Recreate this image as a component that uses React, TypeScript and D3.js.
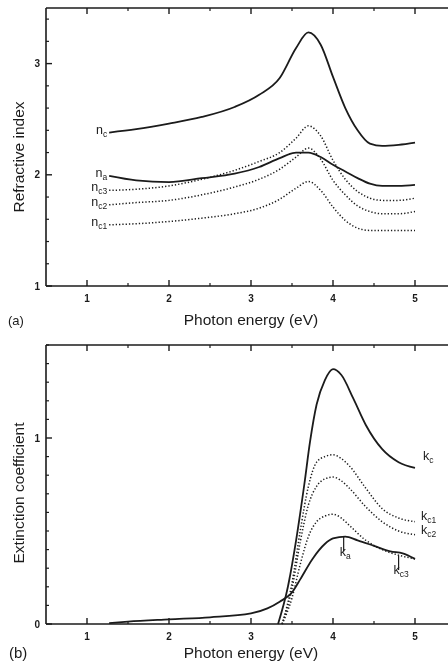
import React, {useEffect, useRef} from 'react';
import * as d3 from 'd3';

// panel (a) refractive index
const aEnergy = [1.27, 1.6, 2.0, 2.4, 2.8, 3.1, 3.35, 3.55, 3.7, 3.85, 4.0, 4.15, 4.3, 4.45, 4.6, 4.8, 5.0];
const nC = [2.38, 2.41, 2.46, 2.52, 2.61, 2.72, 2.87, 3.14, 3.28, 3.17, 2.88, 2.6, 2.4, 2.28, 2.26, 2.27, 2.29];
const nA = [1.99, 1.95, 1.935, 1.97, 2.01, 2.07, 2.15, 2.2, 2.2, 2.16, 2.09, 2.03, 1.97, 1.92, 1.9, 1.9, 1.91];
const nC3 = [1.86, 1.87, 1.9, 1.96, 2.04, 2.12, 2.2, 2.33, 2.44, 2.35, 2.13, 1.96, 1.85, 1.79, 1.77, 1.77, 1.79];
const nC2 = [1.73, 1.75, 1.77, 1.82, 1.89, 1.96, 2.05, 2.16, 2.24, 2.14, 1.95, 1.82, 1.72, 1.67, 1.65, 1.65, 1.67];
const nC1 = [1.55, 1.56, 1.58, 1.61, 1.65, 1.7, 1.78, 1.88, 1.94, 1.86, 1.71, 1.59, 1.52, 1.5, 1.5, 1.5, 1.5];

// panel (b) extinction coefficient
const kaEnergy = [1.27, 1.5, 2.0, 2.5, 3.0, 3.2, 3.35, 3.5, 3.6, 3.75, 3.9, 4.0, 4.15, 4.3, 4.5, 4.7, 4.85, 5.0];
const kA = [0.005, 0.013, 0.025, 0.036, 0.057, 0.084, 0.12, 0.17, 0.24, 0.35, 0.43, 0.46, 0.47, 0.45, 0.42, 0.39, 0.38, 0.35];
const kcEnergy = [3.33, 3.45, 3.55, 3.65, 3.72, 3.8, 3.9, 4.0, 4.1, 4.25, 4.4, 4.6, 4.8, 5.0];
const kC = [0, 0.2, 0.45, 0.75, 0.98, 1.18, 1.31, 1.37, 1.34, 1.21, 1.07, 0.94, 0.87, 0.84];
const kdEnergy = [3.38, 3.5, 3.6, 3.7, 3.8, 3.9, 4.0, 4.1, 4.2, 4.4, 4.6, 4.8, 5.0];
const kC1 = [0, 0.22, 0.5, 0.74, 0.87, 0.9, 0.91, 0.89, 0.85, 0.73, 0.62, 0.57, 0.55];
const kC2 = [0, 0.19, 0.44, 0.64, 0.74, 0.78, 0.79, 0.77, 0.73, 0.63, 0.55, 0.5, 0.48];
const kC3 = [0, 0.14, 0.32, 0.47, 0.55, 0.58, 0.59, 0.57, 0.53, 0.45, 0.4, 0.37, 0.35];

const xTicks = [1, 2, 3, 4, 5];

const FONT = "'Liberation Sans', Arial, sans-serif";

const App = () => {
    const ref = useRef<SVGSVGElement>(null);

    useEffect(() => {
        const svg = d3.select(ref.current);
        svg.selectAll("*").remove();

        const ink = "#1a1a1a";
        // opacity just under 1 keeps text antialiasing grey like the scan
        const root = svg.append("g").attr("opacity", 0.995);

        // draws frame + ticks for one panel, returns the scales
        function panel(top: number, bottom: number, yDomain: [number, number], majors: number[], minorStep: number) {
            const x = d3.scaleLinear().domain([0.5, 5.5]).range([46, 456]);
            const y = d3.scaleLinear().domain(yDomain).range([bottom, top]);
            const g = root.append("g");

            const minorX = d3.range(1.5, 5.5, 1);
            const minorY = d3.range(yDomain[0], yDomain[1] + 1e-9, minorStep).filter(v => !majors.some(m => Math.abs(m - v) < 1e-6));

            // frame
            g.append("line").attr("x1", 46).attr("x2", 46).attr("y1", top).attr("y2", bottom);
            g.append("line").attr("x1", 46).attr("x2", 448).attr("y1", bottom).attr("y2", bottom);
            g.append("line").attr("x1", 46).attr("x2", 448).attr("y1", top).attr("y2", top);
            g.selectAll("line").attr("stroke", ink).attr("stroke-width", 1.6);

            const tick = (x1: number, y1: number, x2: number, y2: number, w: number) =>
                g.append("line").attr("x1", x1).attr("y1", y1).attr("x2", x2).attr("y2", y2)
                    .attr("stroke", ink).attr("stroke-width", w);

            xTicks.forEach(v => { tick(x(v), bottom, x(v), bottom - 6, 1.4); tick(x(v), top, x(v), top + 6, 1.4); });
            minorX.forEach(v => { tick(x(v), bottom, x(v), bottom - 3, 1.2); tick(x(v), top, x(v), top + 3, 1.2); });
            majors.forEach(v => tick(46, y(v), 52, y(v), 1.4));
            minorY.forEach(v => tick(46, y(v), 49, y(v), 1.2));

            g.selectAll("text.xt").data(xTicks).join("text")
                .attr("x", d => x(d)).attr("y", bottom + 16)
                .attr("text-anchor", "middle").attr("font-size", 10).attr("font-weight", "bold")
                .attr("font-family", FONT).attr("fill", ink).text(d => d);
            g.selectAll("text.yt").data(majors).join("text")
                .attr("x", 40).attr("y", d => y(d) + 3.5)
                .attr("text-anchor", "end").attr("font-size", 10).attr("font-weight", "bold")
                .attr("font-family", FONT).attr("fill", ink).text(d => d);
            return {x, y, g};
        }

        function curve(g: any, x: any, y: any, xs: number[], ys: number[], dotted: boolean) {
            const line = d3.line<number>()
                .x((d, i) => x(xs[i]))
                .y(d => y(d))
                .curve(d3.curveMonotoneX);
            g.append("path").attr("d", line(ys))
                .attr("fill", "none").attr("stroke", ink)
                .attr("stroke-width", dotted ? 1.5 : 1.8)
                .attr("stroke-dasharray", dotted ? "1.3 2" : null)
                .attr("stroke-linejoin", "round");
        }

        function label(g: any, px: number, py: number, main: string, sub: string, anchor = "start") {
            const t = g.append("text").attr("x", px).attr("y", py)
                .attr("font-family", FONT).attr("font-size", 12.5).attr("fill", ink)
                .attr("text-anchor", anchor);
            t.append("tspan").text(main);
            t.append("tspan").attr("font-size", 8.5).attr("dy", 3).text(sub);
        }

        // ----- (a)
        const a = panel(8, 286, [1, 3.5], [1, 2, 3], 0.2);
        curve(a.g, a.x, a.y, aEnergy, nC, false);
        curve(a.g, a.x, a.y, aEnergy, nA, false);
        curve(a.g, a.x, a.y, aEnergy, nC3, true);
        curve(a.g, a.x, a.y, aEnergy, nC2, true);
        curve(a.g, a.x, a.y, aEnergy, nC1, true);
        const aLabels: [string, number][] = [["c", nC[0]], ["a", nA[0]], ["c3", nC3[0]], ["c2", nC2[0]], ["c1", nC1[0]]];
        aLabels.forEach(([s, v]) => label(a.g, a.x(aEnergy[0]) - 2, a.y(v) + 1, "n", s, "end"));

        // ----- (b)
        const b = panel(345, 624, [0, 1.5], [0, 1], 0.1);
        curve(b.g, b.x, b.y, kaEnergy, kA, false);
        curve(b.g, b.x, b.y, kcEnergy, kC, false);
        curve(b.g, b.x, b.y, kdEnergy, kC1, true);
        curve(b.g, b.x, b.y, kdEnergy, kC2, true);
        curve(b.g, b.x, b.y, kdEnergy, kC3, true);

        // leaders for k_a and k_c3
        const leaders: [number, number, number][] = [[4.13, 0.47, 0.39], [4.8, 0.37, 0.29]];
        leaders.forEach(([e, v0, v1]) => b.g.append("line")
            .attr("x1", b.x(e)).attr("x2", b.x(e)).attr("y1", b.y(v0)).attr("y2", b.y(v1))
            .attr("stroke", ink).attr("stroke-width", 1.2));
        label(b.g, 423, 460, "k", "c");
        label(b.g, 421, 520, "k", "c1");
        label(b.g, 421, 534, "k", "c2");
        label(b.g, b.x(4.13) - 4, 556, "k", "a");
        label(b.g, b.x(4.8) - 5, 574, "k", "c3");

        // axis titles
        const title = (tx: number, ty: number, s: string, rot = false) =>
            root.append("text").attr("x", tx).attr("y", ty)
                .attr("transform", rot ? `rotate(-90,${tx},${ty})` : null)
                .attr("text-anchor", "middle").attr("font-family", FONT)
                .attr("font-size", 15.5).attr("fill", ink).text(s);
        title(251, 325, "Photon energy (eV)");
        title(251, 658, "Photon energy (eV)");
        title(24, 157, "Refractive index", true);
        title(24, 493, "Extinction coefficient", true);
        root.append("text").attr("x", 8).attr("y", 325).attr("font-family", FONT)
            .attr("font-size", 13).attr("fill", ink).text("(a)");
        root.append("text").attr("x", 9).attr("y", 658).attr("font-family", FONT)
            .attr("font-size", 15).attr("fill", ink).text("(b)");
    }, []);

    return (
        <svg ref={ref} width={448} height={666}
             style={{position: "absolute", left: 0, top: 0, background: "#fff"}}/>
    );
};

export default App;
